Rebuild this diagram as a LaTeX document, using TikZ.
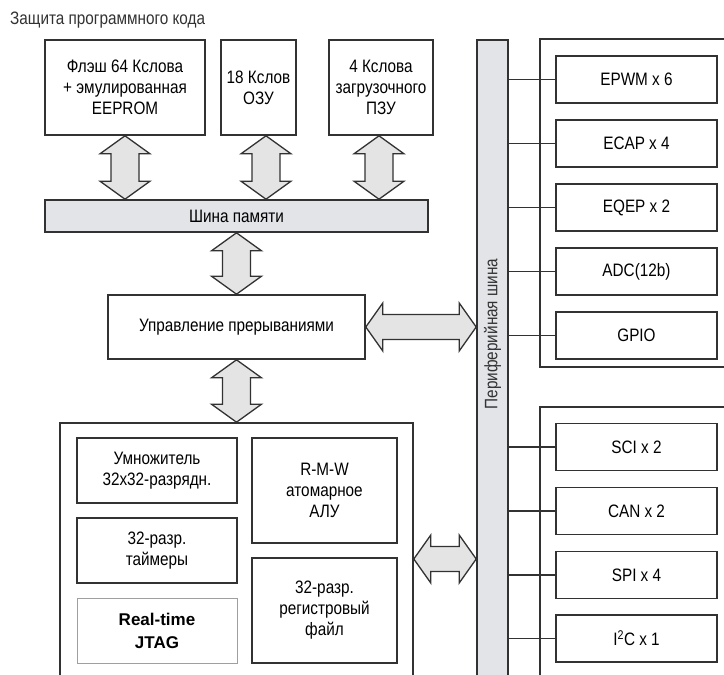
\documentclass[tikz,border=0pt]{standalone}
\usepackage{fontspec}
\setmainfont{Liberation Sans}[FakeStretch=0.85]
\newfontfamily\jtagfont{Liberation Sans}
\usetikzlibrary{calc}

\begin{document}
\begin{tikzpicture}[x=1pt,y=-1pt,
  blk/.style={draw=ln, line width=1.6pt, fill=white, align=center, inner sep=2pt, font=\fontsize{18}{21}\selectfont},
  bus/.style={blk, fill=busf},
  grp/.style={draw=ln, line width=1.6pt},
  lnk/.style={draw=ln, line width=1.2pt},
  vbus/.style={draw=ln, line width=1.3pt, fill=arrf, to path={let \p1=(\tikztostart), \p2=(\tikztotarget) in
    (\x1,\y1) -- (\x1+25pt,\y1-18pt) -- (\x1+14pt,\y1-18pt) -- (\x1+14pt,\y2+18pt) -- (\x1+25pt,\y2+18pt) -- (\x1,\y2)
    -- (\x1-25pt,\y2+18pt) -- (\x1-14pt,\y2+18pt) -- (\x1-14pt,\y1-18pt) -- (\x1-25pt,\y1-18pt) -- cycle}},
  hbus/.style={draw=ln, line width=1.3pt, fill=arrf, to path={let \p1=(\tikztostart), \p2=(\tikztotarget) in
    (\x1,\y1) -- (\x1+17pt,\y1+24pt) -- (\x1+17pt,\y1+12.5pt) -- (\x2-17pt,\y1+12.5pt) -- (\x2-17pt,\y1+24pt) -- (\x2,\y1)
    -- (\x2-17pt,\y1-24pt) -- (\x2-17pt,\y1-12.5pt) -- (\x1+17pt,\y1-12.5pt) -- (\x1+17pt,\y1-24pt) -- cycle}}]
  \definecolor{ln}{RGB}{50,50,50}
  \definecolor{busf}{RGB}{226,228,232}
  \definecolor{arrf}{RGB}{228,228,228}
  \useasboundingbox (0,0) rectangle (724,675);
  \clip (0,0) rectangle (724,675);

  \node[anchor=west, font=\fontsize{18}{21}\selectfont, text=ln, inner sep=0pt] (title) at (10,20) {Защита программного кода};

  \node[blk, minimum width=160pt, minimum height=95pt] (flash) at (125,87.5) {Флэш 64 Кслова\\+ эмулированная\\EEPROM};
  \node[blk, minimum width=75pt, minimum height=95pt] (ram) at (258.5,87.5) {18 Кслов\\ОЗУ};
  \node[blk, minimum width=104pt, minimum height=95pt] (rom) at (381,87.5) {4 Кслова\\загрузочного\\ПЗУ};
  \node[bus, minimum width=383pt, minimum height=32pt] (membus) at (236.5,216) {Шина памяти};
  \node[blk, minimum width=257pt, minimum height=64pt] (intr) at (236.5,327) {Управление прерываниями};

  \node[blk, minimum width=353pt, minimum height=300pt] (cpu) at (236.5,573) {};
  \node[blk, minimum width=160pt, minimum height=65pt] (mul) at (157,470.5) {Умножитель\\32x32-разрядн.};
  \node[blk, minimum width=160pt, minimum height=65pt] (tmr) at (157,550.5) {32-разр.\\таймеры};
  \node[blk, draw=gray!75, line width=1pt, minimum width=160pt, minimum height=65pt,
    font=\jtagfont\bfseries\fontsize{17}{23}\selectfont] (jtag) at (157,630.5) {Real-time\\JTAG};
  \node[blk, minimum width=145pt, minimum height=105pt] (alu) at (324.5,490.5) {R-M-W\\атомарное\\АЛУ};
  \node[blk, minimum width=145pt, minimum height=105pt] (regs) at (324.5,610.5) {32-разр.\\регистровый\\файл};

  \node[bus, minimum width=31pt, minimum height=680pt] (pbus) at (492.5,380) {};
  \node[rotate=90, font=\fontsize{18}{21}\selectfont, text=ln] (pbl) at (492.5,334) {Периферийная шина};

  \node[grp, minimum width=200pt, minimum height=328pt] (grpa) at (640,203) {};
  \node[grp, minimum width=200pt, minimum height=313pt] (grpb) at (640,563.5) {};
  \foreach \n/\t/\yy in {epwm/EPWM x 6/79.5, ecap/ECAP x 4/143.5, eqep/EQEP x 2/207.5, adc/ADC(12b)/271.5, gpio/GPIO/335.5,
      sci/SCI x 2/447, can/CAN x 2/511, spi/SPI x 4/575, iic/I\textsuperscript{2}C x 1/638.5} {
    \node[blk, minimum width=161pt, minimum height=47pt] (\n) at (636.5,\yy) {\t};
    \draw[lnk] (\n.west -| pbus.east) -- (\n.west);
  }

  \draw[vbus] (flash.south) to (membus.north);
  \draw[vbus] ([xshift=7.5pt]ram.south) to (membus.north);
  \draw[vbus] ([xshift=-2pt]rom.south) to (membus.north);
  \draw[vbus] (membus.south) to (intr.north);
  \draw[vbus] (intr.south) to (cpu.north);
  \draw[hbus] (intr.east) to (pbus.west);
  \draw[hbus] ([yshift=14pt]cpu.east) to (pbus.west);
\end{tikzpicture}
\end{document}
